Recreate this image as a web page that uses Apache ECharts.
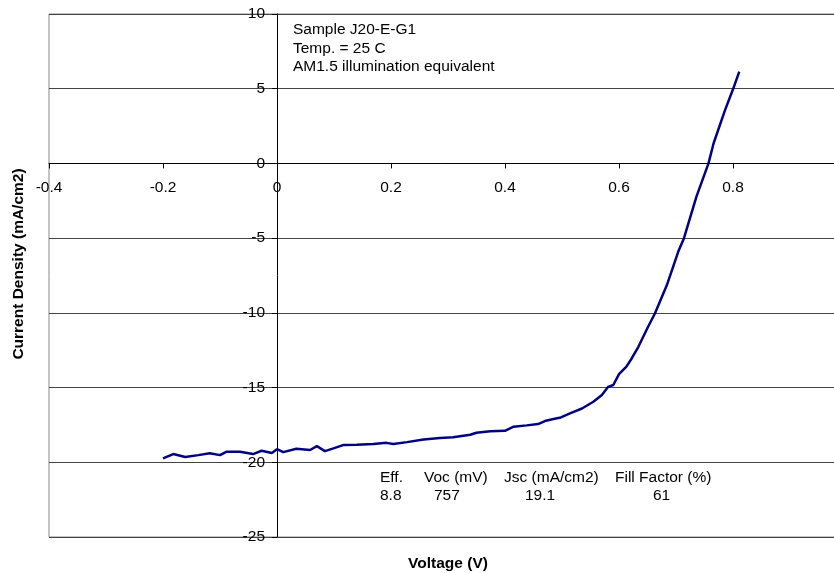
<!DOCTYPE html>
<html>
<head>
<meta charset="utf-8">
<script src="https://cdn.jsdelivr.net/npm/echarts@6/dist/echarts.min.js"></script>
<style>
html,body{margin:0;padding:0;background:#fff;}
#chart{width:834px;height:573px;}
</style>
</head>
<body>
<div id="chart"></div>
<script>
// Data
var voltage = [-0.2,-0.182,-0.161,-0.138,-0.118,-0.1,-0.089,-0.065,-0.042,-0.027,-0.009,0,0.011,0.034,0.058,0.07,0.084,0.099,0.116,0.14,0.169,0.192,0.204,0.228,0.257,0.286,0.309,0.339,0.35,0.374,0.4,0.415,0.438,0.458,0.47,0.485,0.498,0.514,0.535,0.555,0.57,0.581,0.59,0.6,0.613,0.622,0.634,0.651,0.663,0.684,0.704,0.714,0.736,0.757,0.766,0.786,0.8,0.811];
var current = [-19.74,-19.45,-19.65,-19.52,-19.4,-19.52,-19.3,-19.3,-19.45,-19.23,-19.38,-19.12,-19.32,-19.1,-19.18,-18.92,-19.25,-19.07,-18.85,-18.82,-18.78,-18.7,-18.78,-18.65,-18.47,-18.38,-18.33,-18.16,-18.02,-17.93,-17.89,-17.62,-17.53,-17.44,-17.24,-17.1,-17.0,-16.73,-16.4,-15.95,-15.5,-14.95,-14.83,-14.1,-13.6,-13.07,-12.27,-10.93,-10.04,-8.14,-5.9,-5.0,-2.2,0,1.35,3.57,4.96,6.14];

var infoLines = ['Sample J20-E-G1', 'Temp. = 25 C', 'AM1.5 illumination equivalent'];
var tableHeaders = ['Eff.', 'Voc (mV)', 'Jsc (mA/cm2)', 'Fill Factor (%)'];
var tableValues = ['8.8', '757', '19.1', '61'];

var xTitle = 'Voltage (V)';
var yTitle = 'Current Density (mA/cm2)';

var FONT = '"Liberation Sans", Arial, sans-serif';
var FS = 15.5;

var seriesData = voltage.map(function (v, i) { return [v, current[i]]; });

var headerX = [380, 424, 504, 615];
var valueX = [380, 434, 525, 653];

var graphics = [];
infoLines.forEach(function (t, i) {
  graphics.push({type:'text', left:293, top: 22 + i*18.3,
    style:{text:t, font: FS + 'px ' + FONT, fill:'#000'}});
});
tableHeaders.forEach(function (t, i) {
  graphics.push({type:'text', left:headerX[i], top: 470,
    style:{text:t, font: FS + 'px ' + FONT, fill:'#000'}});
});
tableValues.forEach(function (t, i) {
  graphics.push({type:'text', left:valueX[i], top: 488,
    style:{text:t, font: FS + 'px ' + FONT, fill:'#000'}});
});
graphics.push({type:'text', x:448, y:564,
  style:{text:xTitle, font:'bold ' + FS + 'px ' + FONT, fill:'#000', textAlign:'center', textVerticalAlign:'middle'}});
graphics.push({type:'text', x:19, y:264, rotation: Math.PI/2,
  style:{text:yTitle, font:'bold ' + FS + 'px ' + FONT, fill:'#000', textAlign:'center', textVerticalAlign:'middle'}});

var GRID = {left: 49, right: -13, top: 14, bottom: 36};

var chart = echarts.init(document.getElementById('chart'));
chart.setOption({
  animation: false,
  backgroundColor: '#fff',
  grid: {left: GRID.left, right: GRID.right, top: GRID.top, bottom: GRID.bottom,
    outerBoundsMode: 'none', containLabel: false,
    show: true, borderColor: '#888', borderWidth: 1, backgroundColor: 'transparent'},
  xAxis: {
    type: 'value', min: -0.4, max: 1.0, interval: 0.2,
    axisLine: {onZero: false, lineStyle: {color: '#000', width: 1}},
    axisTick: {show: true, length: 5, lineStyle: {color: '#000'}},
    axisLabel: {color: '#000', fontFamily: FONT, fontSize: FS, margin: 16,
      formatter: function (v) { return v > 0.95 ? '' : String(Math.round(v*10)/10); }},
    splitLine: {show: false}
  },
  yAxis: {
    type: 'value', min: -25, max: 10, interval: 5,
    axisLine: {onZero: false, lineStyle: {color: '#000', width: 1}},
    axisTick: {show: true, length: 5, lineStyle: {color: '#000'}},
    axisLabel: {color: '#000', fontFamily: FONT, fontSize: FS, margin: 12},
    splitLine: {show: true, lineStyle: {color: '#444', width: 1}}
  },
  series: [{
    type: 'line', data: seriesData, showSymbol: false, smooth: false,
    lineStyle: {color: '#000080', width: 2.5}, clip: true
  }],
  graphic: graphics
});

// Place both axes so that they cross at the origin (labels follow the axis line)
var origin = chart.convertToPixel({gridIndex: 0}, [0, 0]);
var gridRect = chart.getModel().getComponent('grid', 0).coordinateSystem.getRect();
chart.setOption({
  xAxis: {offset: -((gridRect.y + gridRect.height) - origin[1])},
  yAxis: {offset: -(origin[0] - gridRect.x)}
});
</script>
</body>
</html>
